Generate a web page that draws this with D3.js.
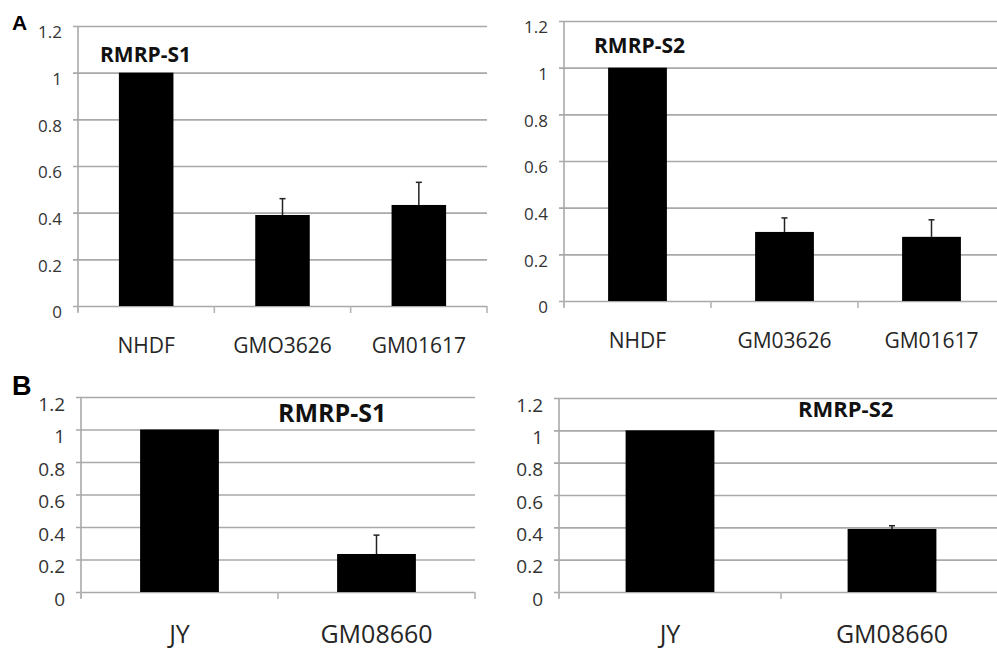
<!DOCTYPE html>
<html>
<head>
<meta charset="utf-8">
<script src="https://cdn.jsdelivr.net/npm/d3@7"></script>
<style>
  body { margin: 0; background: #fff; }
  svg { display: block; font-family: "Open Sans", sans-serif; }
</style>
</head>
<body>
<svg id="chart" width="997" height="649"></svg>
<script>
  //Values
  const catsA1 = ['NHDF', 'GMO3626', 'GM01617'];
  const catsA2 = ['NHDF', 'GM03626', 'GM01617'];
  const catsB = ['JY', 'GM08660'];

  const valsA1 = [1, 0.39, 0.433];
  const errA1 = [0, 0.07, 0.097];
  const valsA2 = [1, 0.296, 0.275];
  const errA2 = [0, 0.06, 0.073];
  const valsB1 = [1, 0.234];
  const errB1 = [0, 0.116];
  const valsB2 = [1, 0.39];
  const errB2 = [0, 0.02];

  const yTicks = [0, 0.2, 0.4, 0.6, 0.8, 1, 1.2];
  const yTickLabels = ['0', '0.2', '0.4', '0.6', '0.8', '1', '1.2'];

  const svg = d3.select('#chart');

  //Panel layout: plot box, fonts and title spot
  const panels = [
    { cats: catsA1, vals: valsA1, err: errA1, title: 'RMRP-S1',
      x0: 78, x1: 487, yTop: 26, yBot: 306, tickFs: 17, catFs: 21, catY: 353,
      titleFs: 21, titleX: 100, titleY: 62 },
    { cats: catsA2, vals: valsA2, err: errA2, title: 'RMRP-S2',
      x0: 564, x1: 1005, yTop: 21, yBot: 301, tickFs: 17, catFs: 21, catY: 348,
      titleFs: 21, titleX: 594, titleY: 53 },
    { cats: catsB, vals: valsB1, err: errB1, title: 'RMRP-S1',
      x0: 81, x1: 475, yTop: 397, yBot: 592, tickFs: 19, catFs: 25, catY: 643,
      titleFs: 25, titleX: 278, titleY: 422 },
    { cats: catsB, vals: valsB2, err: errB2, title: 'RMRP-S2',
      x0: 559, x1: 1003, yTop: 398, yBot: 592, tickFs: 19, catFs: 25, catY: 643,
      titleFs: 22, titleX: 798, titleY: 417 }
  ];

  panels.forEach(drawPanel);

  //Panel letters
  svg.append('text').attr('x', 12).attr('y', 30)
    .attr('font-family', 'Liberation Sans, Arial, sans-serif')
    .attr('font-weight', 'bold').attr('font-size', 21).text('A');
  svg.append('text').attr('x', 12).attr('y', 395)
    .attr('font-family', 'Liberation Sans, Arial, sans-serif')
    .attr('font-weight', 'bold').attr('font-size', 27).text('B');

  function drawPanel(p) {
    const x = d3.scaleBand()
      .domain(p.cats)
      .range([p.x0, p.x1])
      .paddingInner(0.6)
      .paddingOuter(0.3);

    const y = d3.scaleLinear()
      .domain([0, 1.2])
      .range([p.yBot, p.yTop]);

    const g = svg.append('g');

    //Horizontal gridlines (they poke a little left of the axis like ticks)
    g.append('g')
      .attr('transform', `translate(${p.x0},0)`)
      .call(d3.axisLeft(y).tickValues(yTicks).tickSize(-(p.x1 - p.x0)).tickSizeOuter(0)
        .tickFormat((d, i) => yTickLabels[i]).tickPadding(16))
      .call(a => a.select('.domain').remove())
      .call(a => a.selectAll('.tick line')
        .attr('x1', -5)
        .attr('stroke', '#a9a9a9').attr('stroke-width', 1.6))
      .call(a => a.selectAll('.tick text')
        .attr('font-family', '"Open Sans", sans-serif')
        .attr('font-size', p.tickFs).attr('fill', '#333').attr('dy', '0.7em'));

    //Y axis line
    g.append('line')
      .attr('x1', p.x0).attr('x2', p.x0)
      .attr('y1', p.yTop).attr('y2', p.yBot + 6)
      .attr('stroke', '#a9a9a9').attr('stroke-width', 1.6);

    //Category ticks on the baseline
    const step = x.step();
    const bounds = d3.range(p.cats.length + 1).map(i => p.x0 + i * step);
    g.selectAll('.ctick').data(bounds).enter().append('line')
      .attr('x1', d => d).attr('x2', d => d)
      .attr('y1', p.yBot).attr('y2', p.yBot + 7)
      .attr('stroke', '#b5b5b5').attr('stroke-width', 1.6);

    //Bars
    g.selectAll('.bar').data(p.cats).enter().append('rect')
      .attr('x', d => x(d))
      .attr('y', (d, i) => y(p.vals[i]))
      .attr('width', x.bandwidth())
      .attr('height', (d, i) => y(0) - y(p.vals[i]))
      .attr('fill', '#000');

    //Upper error bars
    const errs = p.cats.map((c, i) => ({ c, v: p.vals[i], e: p.err[i] })).filter(d => d.e > 0);
    g.selectAll('.err').data(errs).enter().append('line')
      .attr('x1', d => x(d.c) + x.bandwidth() / 2).attr('x2', d => x(d.c) + x.bandwidth() / 2)
      .attr('y1', d => y(d.v)).attr('y2', d => y(d.v + d.e))
      .attr('stroke', '#222').attr('stroke-width', 1.5);
    g.selectAll('.cap').data(errs).enter().append('line')
      .attr('x1', d => x(d.c) + x.bandwidth() / 2 - 3).attr('x2', d => x(d.c) + x.bandwidth() / 2 + 3)
      .attr('y1', d => y(d.v + d.e)).attr('y2', d => y(d.v + d.e))
      .attr('stroke', '#222').attr('stroke-width', 1.5);

    //Category labels
    g.selectAll('.cat').data(p.cats).enter().append('text')
      .attr('x', d => x(d) + x.bandwidth() / 2)
      .attr('y', p.catY)
      .attr('text-anchor', 'middle')
      .attr('font-size', p.catFs)
      .attr('fill', '#262626')
      .text(d => d);

    //Panel title
    g.append('text')
      .attr('x', p.titleX).attr('y', p.titleY)
      .attr('font-weight', 'bold')
      .attr('font-size', p.titleFs)
      .attr('fill', '#111')
      .text(p.title);
  }
</script>
</body>
</html>
